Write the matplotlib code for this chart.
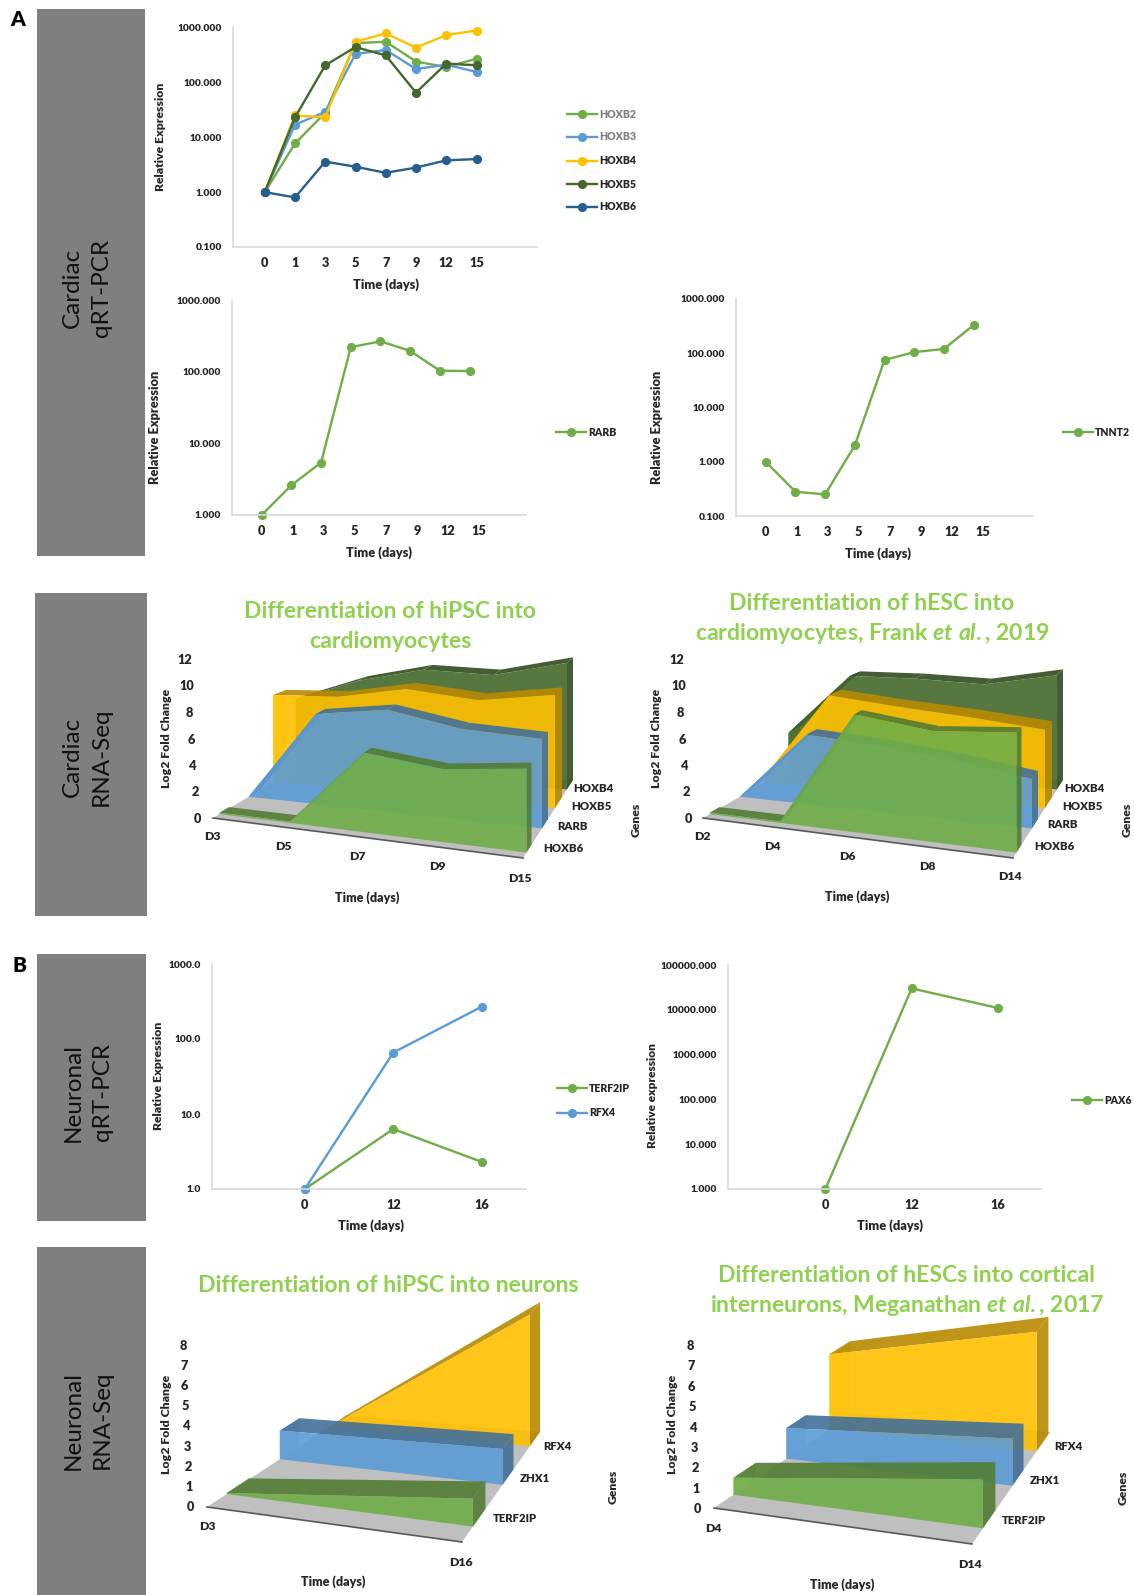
#!/usr/bin/env python3
"""
Rebuild of the cardiac / neuronal qRT-PCR and RNA-Seq figure
"""
import numpy as np
import matplotlib
matplotlib.use('Agg')
import matplotlib.pyplot as plt
from matplotlib.patches import Rectangle

W, H = 1134, 1595

plt.rcParams['font.family'] = ['Lato', 'DejaVu Sans']
plt.rcParams['mathtext.fontset'] = 'custom'
plt.rcParams['mathtext.it'] = 'Lato:italic:bold'
plt.rcParams['mathtext.rm'] = 'Lato:bold'
plt.rcParams['mathtext.bf'] = 'Lato:bold'

# qPCR data
cardiac_days = ['0', '1', '3', '5', '7', '9', '12', '15']
hoxb2 = [1, 7.7, 28, 520, 550, 240, 190, 270]
hoxb3 = [1, 17, 29, 330, 390, 175, 210, 155]
hoxb4 = [1, 25, 23, 550, 780, 430, 730, 880]
hoxb5 = [1, 23, 205, 440, 310, 65, 220, 205]
hoxb6 = [1, 0.8, 3.6, 2.9, 2.25, 2.8, 3.8, 4]
rarb = [1, 2.6, 5.4, 220, 265, 195, 103, 102]
tnnt2 = [1, 0.28, 0.25, 2, 75, 105, 120, 330]

neuron_days = ['0', '12', '16']
terf2ip = [1, 6.3, 2.3]
rfx4 = [1, 66, 270]
pax6 = [1, 30000, 11000]

# RNA-Seq data
seq1_days = ['D3', 'D5', 'D7', 'D9', 'D15']
seq1_hoxb6 = [0.1, 0.1, 5.2, 4.6, 5.1]
seq1_rarb = [0.0, 6.5, 7.1, 6.1, 5.8]
seq1_hoxb5 = [6.9, 7.0, 7.8, 7.2, 7.8]
seq1_hoxb4 = [5.8, 7.5, 8.5, 8.2, 9.2]

seq2_days = ['D2', 'D4', 'D6', 'D8', 'D14']
seq2_hoxb6 = [0.1, 0.1, 7.7, 7.0, 7.3]
seq2_rarb = [0.0, 5.0, 4.6, 4.0, 3.2]
seq2_hoxb5 = [0.5, 7.1, 6.5, 6.0, 5.4]
seq2_hoxb4 = [3.0, 7.9, 7.8, 7.5, 8.3]

seq3_days = ['D3', 'D16']
seq3_terf2ip = [0.05, 1.2]
seq3_zhx1 = [1.4, 1.6]
seq3_rfx4 = [0.0, 6.1]

seq4_days = ['D4', 'D14']
seq4_terf2ip = [0.8, 2.1]
seq4_zhx1 = [1.5, 2.1]
seq4_rfx4 = [3.8, 5.5]

GREEN = '#70AD47'
BLUE = '#5B9BD5'
YELLOW = '#FFC000'
DGREEN = '#43682B'
DBLUE = '#255E91'
TITLE_GREEN = '#8FD14F'
BOX_GREY = '#7F7F7F'
AXIS_GREY = '#D9D9D9'
TEXT = '#262626'
BOLD = 'heavy'


def shade(color, f):
    rgb = np.array(matplotlib.colors.to_rgb(color))
    return tuple(rgb * f)


def px_axes(fig, left, top, right, bottom):
    return fig.add_axes([left / W, 1 - bottom / H, (right - left) / W, (bottom - top) / H])


def line_chart(fig, box, xlim, labels, series, yticks, yfmt, ylab, ylab_x, ylab_y, ylab_size,
               xlab_xy, legend_x, legend_ys, tick_stretch=1.0, lw=1.7, ms=5.6):
    ax = px_axes(fig, *box)
    x = np.arange(len(labels))
    for name, vals, color, txt_color in series:
        ax.plot(x, vals, '-o', color=color, lw=lw, ms=ms, label=name)
    ax.set_yscale('log')
    ax.set_ylim(yticks[0], yticks[-1])
    ax.set_xlim(*xlim)
    ax.set_yticks(yticks)
    ax.set_yticklabels([yfmt % v for v in yticks], fontsize=7.4, fontweight=BOLD, color=TEXT)
    ax.minorticks_off()
    ax.set_xticks(x * tick_stretch)
    ax.set_xticklabels(labels, fontsize=9.2, fontweight=BOLD, color=TEXT)
    ax.tick_params(length=0, pad=8)
    ax.tick_params(axis='x', pad=7)
    for s in ['top', 'right']:
        ax.spines[s].set_visible(False)
    for s in ['left', 'bottom']:
        ax.spines[s].set_color(AXIS_GREY)
        ax.spines[s].set_linewidth(1.2)
    ax.patch.set_alpha(0)
    for s in ax.get_children():
        if hasattr(s, 'set_clip_on'):
            s.set_clip_on(False)
    over.text(ylab_x, ylab_y, ylab, rotation=90, ha='center', va='center',
              fontsize=ylab_size, fontweight=BOLD, color=TEXT)
    over.text(xlab_xy[0], xlab_xy[1], 'Time (days)', ha='center', va='center',
              fontsize=9.2, fontweight=BOLD, color=TEXT)
    for (name, vals, color, txt_color), ly in zip(series, legend_ys):
        over.plot([legend_x, legend_x + 30], [ly, ly], '-', color=color, lw=lw)
        over.plot([legend_x + 15], [ly], 'o', color=color, ms=ms)
        over.text(legend_x + 32, ly, name, ha='left', va='center', fontsize=7.6,
                  fontweight=BOLD, color=txt_color)


class Floor:
    """Slanted floor of one Excel style 3D area chart, u along days, v along genes"""

    def __init__(self, fl, fr, br, bl, scale, grow=0.15, shrink=0.2, persp=1.12):
        self.c = [np.array(p, float) for p in (fl, fr, br, bl)]
        self.scale = scale
        self.grow = grow
        self.shrink = shrink
        self.persp = persp

    def warp(self, u):
        u = np.asarray(u, float)
        return u / (u + self.persp * (1 - u))

    def point(self, u, v, val=0.0):
        fl, fr, br, bl = self.c
        uu = self.warp(u)
        p = (1 - v) * ((1 - uu) * fl + uu * fr) + v * ((1 - uu) * bl + uu * br)
        s = self.scale * (1 + self.grow * uu) * (1 - self.shrink * v)
        return p[0], p[1] - val * s


def poly(floor, pts, color, alpha, z):
    xy = [floor.point(*p) for p in pts]
    over.fill([q[0] for q in xy], [q[1] for q in xy], color=color, alpha=alpha, lw=0, zorder=z)


def ribbon(floor, vals, color, v0, v1, z, alpha=0.9):
    u = np.linspace(0, 1, len(vals))
    dark = shade(color, 0.72)
    # left wall stays faint, then the top strip, the right wall and the front face
    poly(floor, [(0, v0, 0), (0, v1, 0), (0, v1, vals[0]), (0, v0, vals[0])], color, 0.35, z)
    for i in range(len(vals) - 1):
        poly(floor, [(u[i], v0, vals[i]), (u[i + 1], v0, vals[i + 1]),
                     (u[i + 1], v1, vals[i + 1]), (u[i], v1, vals[i])], dark, alpha, z + 0.1)
    poly(floor, [(1, v0, 0), (1, v1, 0), (1, v1, vals[-1]), (1, v0, vals[-1])], dark, alpha, z + 0.2)
    pts = [(uu, v0, val) for uu, val in zip(u, vals)] + [(1, v0, 0), (0, v0, 0)]
    poly(floor, pts, color, alpha, z + 0.3)


def area_chart(floor, rows, days, ytick_vals, ytick_x, ytick_y, ylab_xy, day_xy,
               gene_xy, genes_xy, time_xy):
    poly(floor, [(0, 0, 0), (1, 0, 0), (1, 1, 0), (0, 1, 0)], '#BFBFBF', 1, 2)
    a, b = floor.point(0, 0), floor.point(1, 0)
    over.plot([a[0], b[0]], [a[1], b[1]], color='#595959', lw=1.2, zorder=2.5)
    z = 3
    for vals, color, v0, v1 in rows:
        ribbon(floor, vals, color, v0, v1, z)
        z += 1
    for t, tx, ty in zip(ytick_vals, np.linspace(*ytick_x, len(ytick_vals)), np.linspace(*ytick_y, len(ytick_vals))):
        over.text(tx, ty, str(t), ha='center', va='center', fontsize=9.2, fontweight=BOLD, color=TEXT)
    over.text(ylab_xy[0], ylab_xy[1], 'Log2 Fold Change', rotation=90, ha='center', va='center',
              fontsize=8.8, fontweight=BOLD, color=TEXT)
    for d, (dx, dy) in zip(days, day_xy):
        over.text(dx, dy, d, ha='center', va='center', fontsize=8.8, fontweight=BOLD, color=TEXT)
    for g, (gx, gy) in gene_xy:
        over.text(gx, gy, g, ha='center', va='center', fontsize=8.2, fontweight=BOLD, color=TEXT)
    over.text(genes_xy[0], genes_xy[1], 'Genes', rotation=90, ha='center', va='center',
              fontsize=8.8, fontweight=BOLD, color=TEXT)
    over.text(time_xy[0], time_xy[1], 'Time (days)', ha='center', va='center',
              fontsize=9, fontweight=BOLD, color=TEXT)


fig = plt.figure(figsize=(W / 100, H / 100), dpi=100, facecolor='white')

# full page overlay in pixel coordinates for the boxes, text and 3D panels
over = fig.add_axes([0, 0, 1, 1])
over.set_xlim(0, W)
over.set_ylim(H, 0)
over.axis('off')

side_boxes = [
    (37, 9, 145, 556, 288, 'Cardiac\nqRT-PCR'),
    (35, 593, 147, 916, 757, 'Cardiac\nRNA-Seq'),
    (37, 954, 146, 1221, 1092, 'Neuronal\nqRT-PCR'),
    (37, 1247, 146, 1595, 1420, 'Neuronal\nRNA-Seq'),
]
for x0, y0, x1, y1, yc, label in side_boxes:
    over.add_patch(Rectangle((x0, y0), x1 - x0, y1 - y0, color=BOX_GREY, lw=0))
    over.text((x0 + x1) / 2 - 4, yc, label, rotation=90, ha='center', va='center',
              fontsize=17.5, color='#111111', linespacing=1.5)

over.text(18, 20, 'A', ha='center', va='center', fontsize=15, fontweight=BOLD, color='black')
over.text(19, 966, 'B', ha='center', va='center', fontsize=15, fontweight=BOLD, color='black')

# line charts
line_chart(fig, (233, 27.5, 537, 247), (-1.05, 9), cardiac_days,
           [('HOXB2', hoxb2, GREEN, '#808080'), ('HOXB3', hoxb3, BLUE, '#808080'),
            ('HOXB4', hoxb4, YELLOW, TEXT), ('HOXB5', hoxb5, DGREEN, TEXT),
            ('HOXB6', hoxb6, DBLUE, TEXT)],
           [0.1, 1, 10, 100, 1000], '%.3f', 'Relative Expression', 161, 137, 8.8, (386, 285),
           567, [114, 137, 161, 184, 207])
line_chart(fig, (232, 300, 526, 515), (-1, 8.9), cardiac_days,
           [('RARB', rarb, GREEN, TEXT)],
           [1, 10, 100, 1000], '%.3f', 'Relative Expression', 155, 427, 9.2, (379, 553),
           556, [432], tick_stretch=1.045)
line_chart(fig, (736, 299, 1033, 516), (-1, 9), cardiac_days,
           [('TNNT2', tnnt2, GREEN, TEXT)],
           [0.1, 1, 10, 100, 1000], '%.3f', 'Relative Expression', 657, 427, 9.2, (878, 554),
           1063, [432], tick_stretch=1.045)
line_chart(fig, (212, 964, 526, 1189), (-1.05, 2.5), neuron_days,
           [('TERF2IP', terf2ip, GREEN, TEXT), ('RFX4', rfx4, BLUE, TEXT)],
           [1, 10, 100, 1000], '%.1f', 'Relative Expression', 158, 1076, 8.8, (371, 1226),
           557, [1088, 1113])
line_chart(fig, (728, 965, 1041, 1189), (-1.13, 2.5), neuron_days,
           [('PAX6', pax6, GREEN, TEXT)],
           [1, 10, 100, 1000, 10000, 100000], '%.3f', 'Relative expression', 653, 1096, 8.6, (890, 1226),
           1072, [1100])

# 3D area panels
TITLE = dict(ha='center', va='center', fontsize=16.6, fontweight='bold', color=TITLE_GREEN)
over.text(390, 611, 'Differentiation of hiPSC into', **TITLE)
over.text(390, 641, 'cardiomyocytes', **TITLE)
over.text(872, 603, 'Differentiation of hESC into', **TITLE)
over.text(872, 633, r'cardiomyocytes, Frank $\mathit{et\ al.}$, 2019', **TITLE)
over.text(388, 1285, 'Differentiation of hiPSC into neurons', **TITLE)
over.text(907, 1276, 'Differentiation of hESCs into cortical', **TITLE)
over.text(907, 1305, r'interneurons, Meganathan $\mathit{et\ al.}$, 2017', **TITLE)

floor1 = Floor((213, 818), (523, 858), (573, 780), (307, 762), 14.5)
area_chart(floor1,
           [(seq1_hoxb4, DGREEN, 0.88, 1.0), (seq1_hoxb5, YELLOW, 0.64, 0.78),
            (seq1_rarb, BLUE, 0.38, 0.5), (seq1_hoxb6, GREEN, 0.07, 0.17)],
           seq1_days, [12, 10, 8, 6, 4, 2, 0], (185, 197), (660, 819), (167, 738),
           [(212, 837), (283, 846), (357, 857), (437, 867), (520, 878)],
           [('HOXB4', (593, 789)), ('HOXB5', (591, 807)), ('RARB', (572, 826)), ('HOXB6', (563, 848))],
           (636, 820), (367, 898))

floor2 = Floor((703, 818), (1013, 858), (1063, 780), (800, 762), 14.5)
area_chart(floor2,
           [(seq2_hoxb4, DGREEN, 0.88, 1.0), (seq2_hoxb5, YELLOW, 0.64, 0.78),
            (seq2_rarb, BLUE, 0.38, 0.5), (seq2_hoxb6, GREEN, 0.07, 0.17)],
           seq2_days, [12, 10, 8, 6, 4, 2, 0], (677, 688), (660, 819), (657, 738),
           [(702, 837), (772, 846), (847, 856), (927, 867), (1010, 877)],
           [('HOXB4', (1084, 788)), ('HOXB5', (1082, 806)), ('RARB', (1063, 825)), ('HOXB6', (1054, 847))],
           (1127, 820), (857, 897))

floor3 = Floor((207, 1507), (462, 1542), (540, 1432), (347, 1415), 21.5, grow=0.1, shrink=0.1, persp=1.0)
area_chart(floor3,
           [(seq3_rfx4, YELLOW, 0.87, 1.0), (seq3_zhx1, BLUE, 0.52, 0.66),
            (seq3_terf2ip, GREEN, 0.14, 0.3)],
           seq3_days, [8, 7, 6, 5, 4, 3, 2, 1, 0], (183, 190), (1346, 1507), (167, 1424),
           [(207, 1527), (461, 1562)],
           [('RFX4', (557, 1446)), ('ZHX1', (535, 1478)), ('TERF2IP', (515, 1518))],
           (613, 1487), (333, 1582))

floor4 = Floor((714, 1508), (972, 1544), (1050, 1432), (853, 1413), 21.5, grow=0.1, shrink=0.1, persp=1.0)
area_chart(floor4,
           [(seq4_rfx4, YELLOW, 0.83, 0.98), (seq4_zhx1, BLUE, 0.52, 0.66),
            (seq4_terf2ip, GREEN, 0.14, 0.3)],
           seq4_days, [8, 7, 6, 5, 4, 3, 2, 1, 0], (690, 697), (1346, 1509), (673, 1424),
           [(713, 1528), (970, 1564)],
           [('RFX4', (1068, 1447)), ('ZHX1', (1045, 1480)), ('TERF2IP', (1024, 1520))],
           (1123, 1488), (842, 1585))

fig.savefig('out.png', dpi=100)
